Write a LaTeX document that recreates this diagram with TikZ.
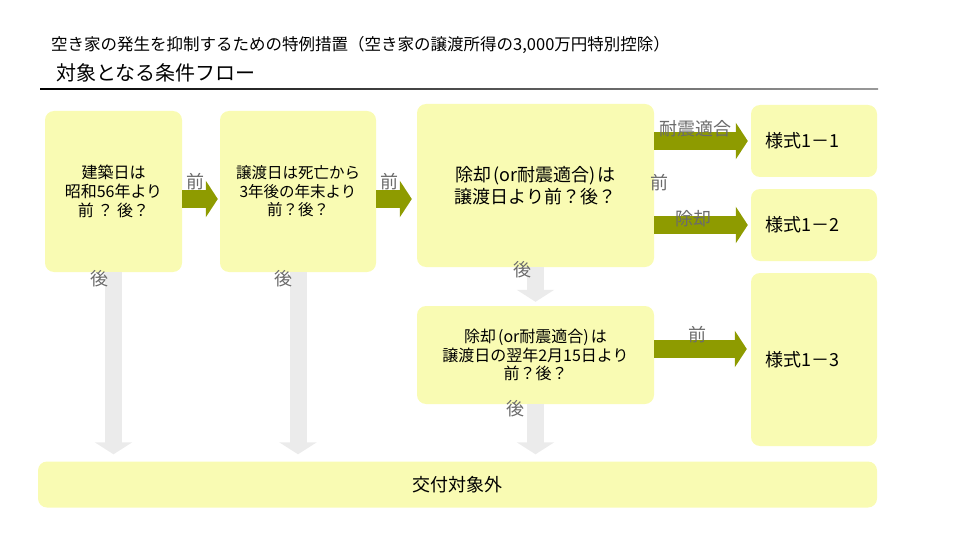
\documentclass[tikz,border=0pt]{standalone}
\usepackage{fontspec}
\setmainfont{Noto Sans CJK JP}
\usetikzlibrary{arrows.meta}
\definecolor{boxfill}{HTML}{F9FBB3}
\definecolor{flowolive}{HTML}{8E9B00}
\definecolor{flowgray}{HTML}{EBEBEB}
\definecolor{textgray}{HTML}{6B6B6B}
\newcommand{\setfs}[2]{\fontsize{#1pt}{#2pt}\selectfont}

\begin{document}
\begin{tikzpicture}[x=1pt, y=-1pt, >=stealth,
  every box/.style={fill=boxfill, rounded corners=9pt, inner sep=0pt, align=center},
  form box/.style={minimum width=126pt, text width=98pt, inner xsep=14pt, align=left, font=\setfs{18}{22}},
  go/.style={draw=flowolive, line width=18pt, -{Triangle[length=12pt, width=36pt]}},
  back/.style={draw=flowgray, line width=17pt, -{Triangle[length=12pt, width=37pt]}},
  arrow text/.style={text=textgray, inner sep=0pt, font=\setfs{18}{20}}]
\useasboundingbox (0,0) rectangle (960,540);

% heading
\node [anchor=west, inner sep=0pt, font=\setfs{16.5}{19}] (subtitle) at (51,45)
  {空き家の発生を抑制するための特例措置（空き家の譲渡所得の3,000万円特別控除）};
\node [anchor=west, inner sep=0pt, font=\setfs{20}{24}] (title) at (56,73) {対象となる条件フロー};
\shade [left color=black, right color=black!40] (40,88.5) rectangle (878,89.7);

% question boxes
\node [every box, minimum width=137pt, minimum height=161pt, font=\setfs{16}{19}] (build) at (113.5,191.5)
  {建築日は\\昭和56年より\\前 ？ 後？};
\node [every box, minimum width=156pt, minimum height=161pt, font=\setfs{15.5}{18.5}] (death) at (298,191.5)
  {譲渡日は死亡から\\3年後の年末より\\前？後？};
\node [every box, minimum width=237pt, minimum height=163pt, font=\setfs{18}{22}] (remove) at (535.5,185.5)
  {除却\kern2pt(or耐震適合)\kern2ptは\\譲渡日より前？後？};
\node [every box, minimum width=237pt, minimum height=98pt, font=\setfs{16}{18.5}] (remove2) at (535.5,355)
  {除却\kern2pt(or耐震適合)\kern2ptは\\譲渡日の翌年2月15日より\\前？後？};

% forms
\foreach \m/\y/\h in {1/141/72, 2/225/72, 3/359.5/173}
  \node [every box, form box, minimum height=\h pt] (form-\m) at (814,\y) {様式1－\m};

\node [every box, minimum width=839pt, minimum height=46pt, font=\setfs{18}{22}] (none) at (457.5,484.5) {交付対象外};

% edges for "before"
\draw [go, shorten >=2pt] ([yshift=-7.5pt]build.east) -- ([yshift=-7.5pt]build.east -| death.west);
\draw [go, shorten >=5pt] ([yshift=-7.5pt]death.east) -- ([yshift=-7.5pt]death.east -| remove.west);
\foreach \m in {1, 2}
  \draw [go, shorten >=3pt] (form-\m.west -| remove.east) -- (form-\m.west);
\draw [go, shorten >=4pt] ([yshift=6pt]remove2.east) -- ([yshift=6pt]remove2.east -| form-3.west);

% edges for "after"
\foreach \n in {build, death, remove2}
  \draw [back, shorten >=7pt] (\n.south) -- (\n.south |- none.north);
\draw [back, shorten >=4pt] (remove.south) -- (remove2.north);

% names of edges
\foreach \t/\x/\y [count=\i] in {前/195/182, 前/389/182, 後/99/279, 後/283/279, 後/522/270,
    後/515/409, 前/697/335, 耐震適合/695/129, 除却/693/219, 前/659/183}
  \node [arrow text] (edge-\i) at (\x,\y) {\t};
\end{tikzpicture}
\end{document}
